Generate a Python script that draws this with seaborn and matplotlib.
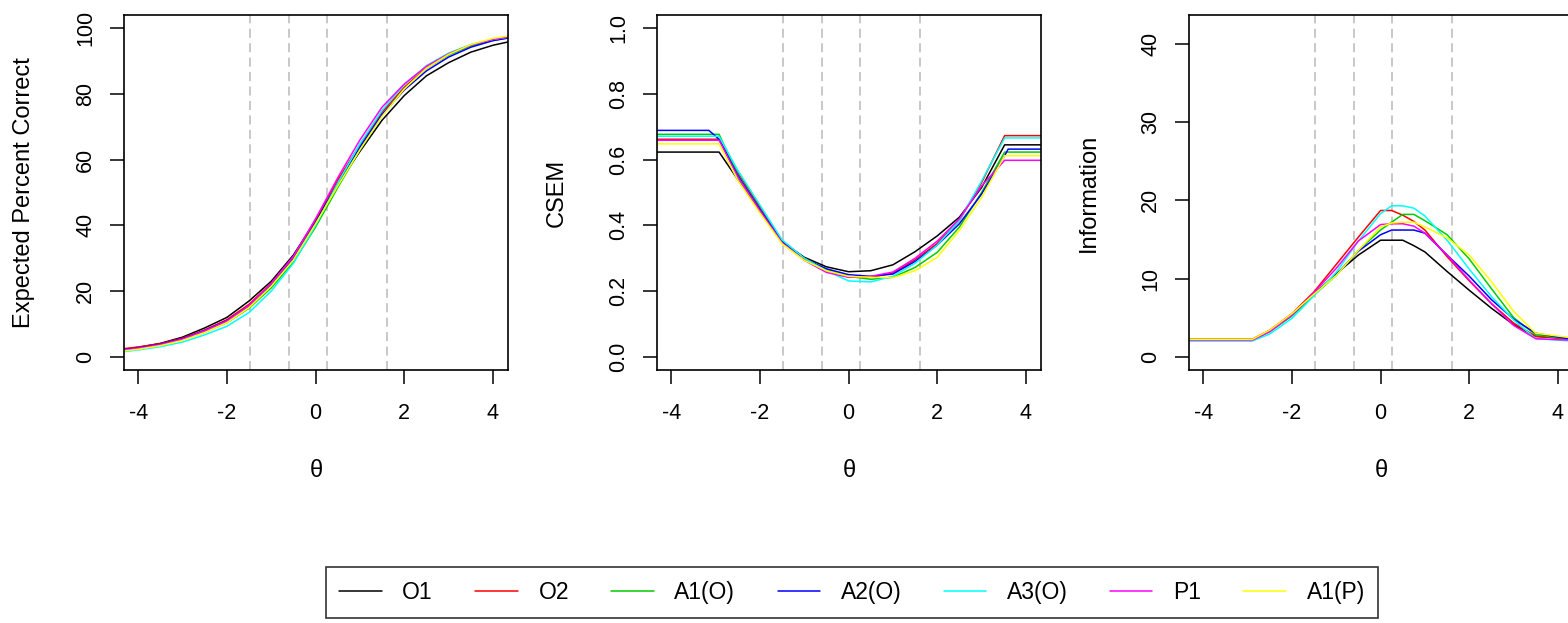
import matplotlib
matplotlib.use("Agg")
import matplotlib.pyplot as plt
import pandas as pd
import seaborn as sns

# forms and R default palette colours
forms = ["O1", "O2", "A1(O)", "A2(O)", "A3(O)", "P1", "A1(P)"]
form_colors = ["#000000", "#FF0000", "#00CD00", "#0000FF", "#00FFFF", "#FF00FF", "#FFFF00"]

# cut scores (dashed vertical lines)
cut_scores = [-1.47, -0.60, 0.26, 1.62]

# --- expected percent correct ---
theta_epc = [-4.32, -4.0, -3.5, -3.0, -2.5, -2.0, -1.5, -1.0, -0.5, 0.0,
             0.5, 1.0, 1.5, 2.0, 2.5, 3.0, 3.5, 4.0, 4.34]
epc_O1 = [2.3, 2.9, 4.1, 6.0, 8.8, 12.0, 17.0, 23.0, 31.0, 41.5, 52.5, 62.5, 72.0, 79.5, 85.5, 89.5, 92.7, 94.8, 95.8]
epc_O2 = [2.5, 3.0, 4.0, 5.7, 8.2, 11.3, 16.0, 22.4, 30.4, 41.8, 53.8, 64.5, 74.5, 82.0, 88.0, 92.0, 94.8, 96.5, 97.2]
epc_A1O = [2.0, 2.5, 3.6, 5.2, 7.5, 10.4, 14.8, 21.0, 28.8, 39.5, 51.5, 63.0, 73.5, 81.5, 87.8, 91.8, 94.6, 96.3, 97.0]
epc_A2O = [2.2, 2.7, 3.8, 5.5, 8.0, 11.0, 15.5, 21.8, 29.8, 40.8, 52.8, 63.8, 73.8, 81.2, 87.0, 91.2, 94.2, 96.2, 97.0]
epc_A3O = [1.6, 2.1, 3.1, 4.5, 6.7, 9.3, 13.5, 20.0, 28.5, 40.0, 52.8, 64.8, 75.0, 82.8, 88.6, 92.4, 95.0, 96.6, 97.3]
epc_P1 = [2.1, 2.6, 3.7, 5.4, 7.9, 10.9, 15.6, 22.3, 30.6, 42.0, 54.5, 66.0, 76.0, 83.0, 88.4, 92.2, 94.9, 96.6, 97.3]
epc_A1P = [1.8, 2.3, 3.4, 5.0, 7.4, 10.4, 15.0, 21.5, 29.5, 40.5, 52.0, 63.0, 73.2, 81.5, 87.8, 92.0, 95.0, 96.9, 97.6]

# --- CSEM ---
theta_csem = [-4.32, -3.15, -2.92, -2.5, -2.0, -1.5, -1.0, -0.5, 0.0, 0.5,
              1.0, 1.5, 2.0, 2.5, 3.0, 3.52, 3.6, 4.34]
csem_O1 = [0.623, 0.623, 0.623, 0.540, 0.443, 0.350, 0.303, 0.274, 0.259, 0.262, 0.280, 0.320, 0.368, 0.425, 0.515, 0.645, 0.645, 0.645]
csem_O2 = [0.662, 0.662, 0.662, 0.560, 0.457, 0.354, 0.300, 0.262, 0.243, 0.242, 0.255, 0.295, 0.345, 0.415, 0.530, 0.673, 0.673, 0.673]
csem_A1O = [0.677, 0.677, 0.677, 0.556, 0.450, 0.351, 0.299, 0.265, 0.245, 0.236, 0.242, 0.272, 0.318, 0.395, 0.500, 0.623, 0.623, 0.623]
csem_A2O = [0.689, 0.689, 0.662, 0.552, 0.449, 0.350, 0.298, 0.268, 0.250, 0.245, 0.252, 0.290, 0.340, 0.405, 0.495, 0.612, 0.632, 0.632]
csem_A3O = [0.671, 0.671, 0.671, 0.568, 0.462, 0.356, 0.300, 0.262, 0.231, 0.228, 0.245, 0.285, 0.340, 0.415, 0.535, 0.666, 0.666, 0.666]
csem_P1 = [0.659, 0.659, 0.659, 0.548, 0.445, 0.347, 0.294, 0.257, 0.242, 0.245, 0.258, 0.300, 0.352, 0.420, 0.520, 0.598, 0.598, 0.598]
csem_A1P = [0.648, 0.648, 0.648, 0.538, 0.438, 0.344, 0.294, 0.262, 0.245, 0.242, 0.241, 0.262, 0.303, 0.385, 0.485, 0.612, 0.612, 0.612]

# --- information ---
theta_info = [-4.32, -2.9, -2.5, -2.0, -1.5, -1.0, -0.5, 0.0, 0.25, 0.5,
              0.75, 1.0, 1.5, 2.0, 2.5, 3.0, 3.5, 4.34]
info_O1 = [2.2, 2.2, 3.3, 5.4, 8.0, 10.6, 13.0, 14.9, 14.9, 14.9, 14.2, 13.4, 10.9, 8.5, 6.2, 4.1, 2.6, 2.3]
info_O2 = [2.2, 2.2, 3.4, 5.5, 8.3, 11.8, 15.3, 18.7, 18.7, 18.1, 17.3, 16.2, 12.8, 9.7, 6.8, 4.3, 2.6, 2.2]
info_A1O = [2.1, 2.1, 3.2, 5.2, 7.9, 10.4, 13.6, 16.2, 17.2, 18.2, 18.2, 17.4, 15.6, 12.5, 8.7, 5.0, 2.8, 2.2]
info_A2O = [2.1, 2.1, 3.3, 5.4, 8.0, 10.5, 13.5, 15.6, 16.2, 16.2, 16.2, 15.8, 13.0, 10.3, 7.3, 4.8, 3.0, 2.2]
info_A3O = [2.0, 2.0, 2.9, 4.9, 7.8, 10.8, 14.8, 18.3, 19.3, 19.3, 19.0, 18.0, 14.9, 11.2, 7.7, 4.7, 2.3, 2.0]
info_P1 = [2.1, 2.1, 3.2, 5.3, 8.2, 11.3, 14.8, 16.9, 17.0, 17.0, 16.7, 15.8, 13.0, 9.8, 6.8, 4.0, 2.3, 2.1]
info_A1P = [2.2, 2.2, 3.4, 5.5, 8.0, 10.4, 13.6, 16.6, 17.1, 17.2, 17.2, 16.6, 15.2, 13.0, 9.6, 5.8, 3.0, 2.4]

panels = [
    ("Expected Percent Correct", theta_epc,
     [epc_O1, epc_O2, epc_A1O, epc_A2O, epc_A3O, epc_P1, epc_A1P],
     (-4, 104), [0, 20, 40, 60, 80, 100]),
    ("CSEM", theta_csem,
     [csem_O1, csem_O2, csem_A1O, csem_A2O, csem_A3O, csem_P1, csem_A1P],
     (-0.04, 1.04), [0.0, 0.2, 0.4, 0.6, 0.8, 1.0]),
    ("Information", theta_info,
     [info_O1, info_O2, info_A1O, info_A2O, info_A3O, info_P1, info_A1P],
     (-1.7, 43.7), [0, 10, 20, 30, 40]),
]

sns.set_theme(style="white")
plt.rcParams["font.family"] = ["Liberation Sans", "DejaVu Sans"]
plt.rcParams["axes.unicode_minus"] = False
plt.rcParams["text.color"] = "black"

fig = plt.figure(figsize=(15.68, 6.23), dpi=100)
lefts = [0.0791, 0.4190, 0.7583]

for left, (ylab, theta, series, ylim, yticks) in zip(lefts, panels):
    ax = fig.add_axes([left, 0.4061, 0.2449, 0.5698])
    rows = []
    for form, vals in zip(forms, series):
        for t, v in zip(theta, vals):
            rows.append({"theta": t, "value": v, "form": form})
    df = pd.DataFrame(rows)
    sns.lineplot(data=df, x="theta", y="value", hue="form", hue_order=forms,
                 palette=form_colors, estimator=None, sort=False, lw=1.1,
                 legend=False, ax=ax)
    for c in cut_scores:
        ax.axvline(c, color="#C4C4C4", lw=1.3, ls=(0, (5, 3)), zorder=1)

    ax.set_xlim(-4.32, 4.34)
    ax.set_ylim(*ylim)
    ax.set_xticks([-4, -2, 0, 2, 4])
    ax.set_yticks(yticks)
    for s in ax.spines.values():
        s.set_color("black")
        s.set_linewidth(1.2)
    ax.tick_params(axis="both", direction="out", length=10, width=1.1,
                   color="black", labelsize=15.5, labelcolor="black",
                   bottom=True, left=True)
    ax.tick_params(axis="x", pad=14)
    ax.tick_params(axis="y", pad=10, labelrotation=90)
    plt.setp(ax.get_yticklabels(), va="center")

    ax.set_xlabel("θ", fontsize=17, color="black", va="center")
    ax.set_ylabel(ylab, fontsize=17, color="black", va="center")
    ax.xaxis.set_label_coords(0.5, -0.2845)
    ax.yaxis.set_label_coords(-0.26, 0.5)
    if left == lefts[0]:
        handles = ax.get_lines()[:len(forms)]

leg = fig.legend(handles, forms, loc="center", bbox_to_anchor=(0.5434, 0.0490),
                 ncol=7, frameon=True, fancybox=False, fontsize=16.5,
                 handlelength=1.85, handletextpad=0.9, columnspacing=1.85,
                 borderpad=0.6, borderaxespad=0, labelcolor="black")
leg.get_frame().set_edgecolor("black")
leg.get_frame().set_linewidth(1.2)

fig.savefig("out.png", dpi=100)
